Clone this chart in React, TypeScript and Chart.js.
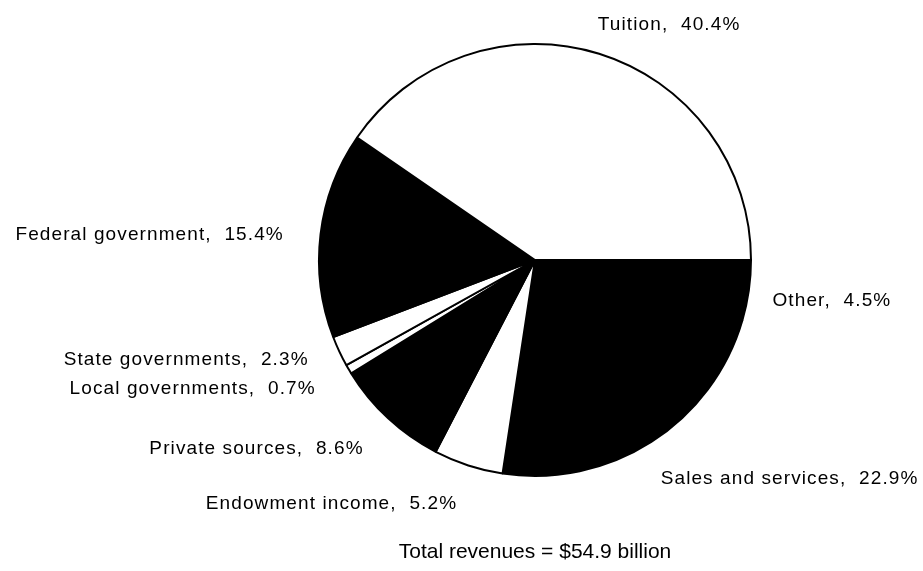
import React, { useEffect, useRef } from "react";
import { Chart, registerables } from "chart.js";

Chart.register(...registerables);

// Slices in drawing order (clockwise on screen, starting at 3 o'clock)
const categories = [
  "Other",
  "Sales and services",
  "Endowment income",
  "Private sources",
  "Local governments",
  "State governments",
  "Federal government",
  "Tuition",
];
const shares = [4.5, 22.9, 5.2, 8.6, 0.7, 2.3, 15.4, 40.4];
const fills = ["#000000", "#000000", "#ffffff", "#000000", "#ffffff", "#ffffff", "#000000", "#ffffff"];
const caption = "Total revenues = $54.9 billion";

// label nudges (style only): [dx, dy]
const labelNudges: [number, number][] = [
  [-12, 5],
  [-10, 6],
  [0, 4],
  [0, 4],
  [-2, 1],
  [2, -7],
  [-1, 5],
  [-12, 5],
];

const labelPlugin = {
  id: "sliceLabels",
  afterDraw(chart: any) {
    const ctx = chart.ctx;
    const meta = chart.getDatasetMeta(0);
    let cx = 0, cy = 0, r = 0;
    ctx.save();
    ctx.fillStyle = "#000";
    ctx.font = '19px "Liberation Sans", Arial, sans-serif';
    try { ctx.letterSpacing = "1.1px"; } catch (e) {}
    ctx.textBaseline = "middle";
    meta.data.forEach((arc: any, i: number) => {
      const p = arc.getProps(["x", "y", "startAngle", "endAngle", "outerRadius"], true);
      cx = p.x; cy = p.y; r = p.outerRadius;
      const mid = (p.startAngle + p.endAngle) / 2;
      const d = p.outerRadius + 36;
      const x = p.x + Math.cos(mid) * d + labelNudges[i][0];
      const y = p.y + Math.sin(mid) * d + labelNudges[i][1];
      ctx.textAlign = Math.cos(mid) >= 0 ? "left" : "right";
      const text = `${categories[i]},  ${shares[i].toFixed(1)}%`;
      ctx.fillText(text, x, y);
    });
    ctx.font = '21px "Liberation Sans", Arial, sans-serif';
    try { ctx.letterSpacing = "0px"; } catch (e) {}
    ctx.textAlign = "center";
    ctx.fillText(caption, cx, cy + r + 76);
    ctx.restore();
  },
};

export default function App() {
  const ref = useRef<HTMLCanvasElement | null>(null);
  useEffect(() => {
    const canvas = ref.current;
    if (!canvas) return;
    const chart = new Chart(canvas, {
      type: "pie",
      data: {
        labels: categories,
        datasets: [
          {
            data: shares,
            backgroundColor: fills,
            borderColor: "#000000",
            borderWidth: 2,
            hoverOffset: 0,
            offset: 0,
          },
        ],
      },
      options: {
        responsive: false,
        animation: false,
        events: [],
        rotation: 90,
        layout: { padding: { left: 318, right: 171, top: 43, bottom: 94 } },
        plugins: {
          legend: { display: false },
          tooltip: { enabled: false },
        },
      },
      plugins: [labelPlugin],
    });
    return () => chart.destroy();
  }, []);
  return (
    <div style={{ position: "absolute", left: 0, top: 0, width: 923, height: 571, background: "#fff" }}>
      <canvas ref={ref} width={923} height={571} />
    </div>
  );
}
